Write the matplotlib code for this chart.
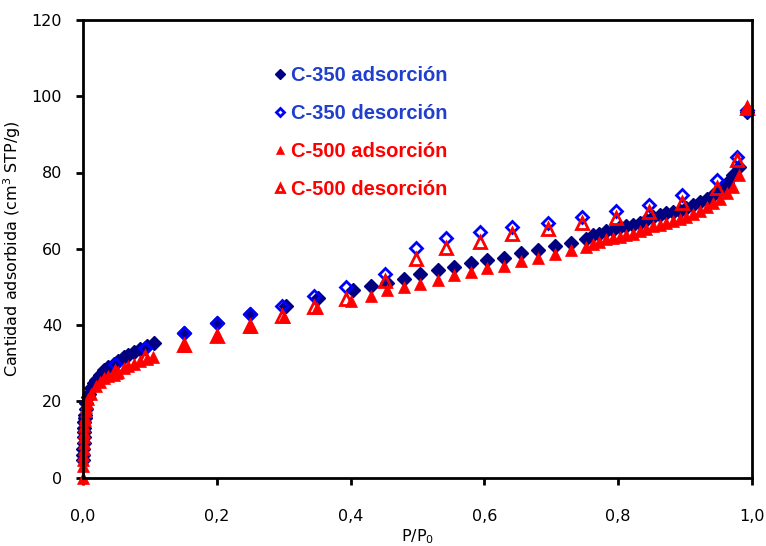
import matplotlib
matplotlib.use('Agg')
import matplotlib.pyplot as plt
from matplotlib.ticker import FuncFormatter, MultipleLocator


# C-350 adsorption branch
p_350_ads = [0.0002, 0.0004, 0.0006, 0.0008, 0.001, 0.0013, 0.0016, 0.002, 0.0025, 0.003,
             0.004, 0.005, 0.007, 0.009, 0.012, 0.016, 0.02, 0.025, 0.031, 0.038,
             0.046, 0.053, 0.061, 0.068, 0.076, 0.085, 0.095, 0.106,
             0.151, 0.2, 0.25, 0.303, 0.352, 0.404, 0.43, 0.455, 0.48, 0.503,
             0.53, 0.555, 0.58, 0.604, 0.63, 0.655, 0.68, 0.705, 0.73,
             0.752, 0.762, 0.772, 0.782, 0.792, 0.802, 0.812, 0.822, 0.832, 0.842,
             0.852, 0.862, 0.872, 0.882, 0.892, 0.902, 0.912, 0.922, 0.932, 0.942,
             0.952, 0.962, 0.971, 0.98, 0.993]
v_350_ads = [4.5, 6, 7.5, 9, 10.5, 12, 13, 14.5, 15.5, 16.5,
             18, 19.5, 21, 22, 23.5, 24.8, 25.7, 26.8, 28.2, 29,
             29.9, 30.6, 31.5, 32.2, 32.8, 33.8, 34.5, 35.2,
             38, 40.6, 43, 44.9, 47, 49.1, 50.1, 50.9, 52, 53.3,
             54.3, 55.1, 56.2, 57, 57.7, 59, 59.8, 60.6, 61.4,
             62.5, 63.5, 64, 64.6, 65, 65.6, 66, 66.2, 66.7, 67.5,
             68.2, 68.8, 69.3, 69.6, 70, 70.6, 71.4, 72.2, 73, 74,
             75.3, 77.2, 79.3, 81.4, 96]

# C-350 desorption branch
p_350_des = [0.993, 0.978, 0.948, 0.896, 0.846, 0.797, 0.746, 0.695, 0.641, 0.593, 0.543,
             0.498, 0.452, 0.393, 0.345, 0.298, 0.25, 0.2, 0.151, 0.093, 0.048]
v_350_des = [96.5, 84, 78, 74, 71.6, 69.8, 68.2, 66.7, 65.6, 64.3, 62.7,
             60.1, 53.3, 49.9, 47.5, 45.1, 43, 40.4, 37.8, 33.9, 29.9]

# C-500 adsorption branch
p_500_ads = [0, 0.0002, 0.0004, 0.0006, 0.0008, 0.001, 0.0013, 0.0016, 0.002, 0.0025,
             0.003, 0.004, 0.005, 0.006, 0.008, 0.012, 0.019, 0.025, 0.031, 0.038,
             0.046, 0.053, 0.061, 0.068, 0.076, 0.085, 0.095, 0.105,
             0.151, 0.2, 0.25, 0.3, 0.35, 0.4, 0.43, 0.455, 0.48, 0.503,
             0.53, 0.555, 0.58, 0.604, 0.63, 0.655, 0.68, 0.705, 0.73,
             0.752, 0.762, 0.772, 0.782, 0.792, 0.802, 0.812, 0.822, 0.832, 0.842,
             0.852, 0.862, 0.872, 0.882, 0.892, 0.902, 0.912, 0.922, 0.932, 0.942,
             0.952, 0.962, 0.971, 0.98, 0.993]
v_500_ads = [0, 3, 4.5, 6, 7.5, 9, 10.5, 12, 13.5, 15,
             16, 17.5, 18.5, 19.5, 20.5, 22, 24, 25, 26, 26.5,
             27, 27.8, 28.6, 29.2, 29.9, 30.5, 31, 31.5,
             34.6, 37, 39.4, 42, 44.4, 46.2, 47.5, 49.1, 49.9, 50.7,
             51.7, 53, 54, 54.9, 55.6, 56.7, 57.7, 58.5, 59.6,
             60.4, 61.2, 61.7, 62.5, 62.7, 63, 63.5, 64, 64.6, 65.3,
             65.9, 66.1, 66.7, 67.2, 67.7, 68.2, 69, 69.8, 70.9, 71.9,
             73, 74.5, 76.1, 79.3, 97]

# C-500 desorption branch
p_500_des = p_350_des
v_500_des = [97, 83.2, 76, 72, 69.6, 68, 66.7, 65.1, 63.8, 61.7, 60.1,
             57.2, 51.5, 46.7, 44.6, 42.3, 39.7, 37.2, 34.8, 31.5, 27.8]

labels = ['C-350 adsorción', 'C-350 desorción', 'C-500 adsorción', 'C-500 desorción']

navy = '#000080'
blue = '#0000ff'
red = '#ff0000'
text_blue = '#1f3fcc'

plt.rcParams['font.family'] = ['DejaVu Sans']

fig = plt.figure(figsize=(7.66, 5.46), dpi=100)
ax = fig.add_axes([83 / 766, 1 - 477.5 / 546, 669 / 766, 457.5 / 546])

ax.plot(p_350_ads, v_350_ads, ls='none', marker='D', ms=7, mfc=navy, mec=navy, mew=1,
        label=labels[0], clip_on=False)
ax.plot(p_350_des, v_350_des, ls='none', marker='D', ms=6.5, mfc='none', mec=blue, mew=2,
        label=labels[1], clip_on=False)
ax.plot(p_500_ads, v_500_ads, ls='none', marker='^', ms=9, mfc=red, mec=red, mew=0.5,
        label=labels[2], clip_on=False)
ax.plot(p_500_des, v_500_des, ls='none', marker='^', ms=8.5, mfc='none', mec=red, mew=2,
        label=labels[3], clip_on=False)

ax.set_xlim(0, 1)
ax.set_ylim(0, 120)
ax.xaxis.set_major_locator(MultipleLocator(0.2))
ax.yaxis.set_major_locator(MultipleLocator(20))
ax.xaxis.set_major_formatter(FuncFormatter(lambda v, pos: f'{v:.1f}'.replace('.', ',')))

for s in ax.spines.values():
    s.set_linewidth(2)
ax.tick_params(direction='out', length=5, width=2, labelsize=11.5)
ax.tick_params(axis='y', pad=10)
ax.tick_params(axis='x', pad=18)

ax.set_xlabel('P/P$_\\mathregular{0}$', fontsize=11.5, labelpad=2)
ax.set_ylabel('Cantidad adsorbida (cm$^\\mathregular{3}$ STP/g)', fontsize=11.5, labelpad=6)

leg = ax.legend(loc='upper left', bbox_to_anchor=(264 / 766, 1 - 56 / 546),
                bbox_transform=fig.transFigure, frameon=False, handlelength=0.6,
                handletextpad=0.25, labelspacing=0.95, borderpad=0,
                prop={'family': 'Liberation Sans', 'weight': 'bold', 'size': 14.5},
                markerscale=0.7)
for t, c in zip(leg.get_texts(), [text_blue, text_blue, red, red]):
    t.set_color(c)

fig.savefig('out.png', dpi=100)
